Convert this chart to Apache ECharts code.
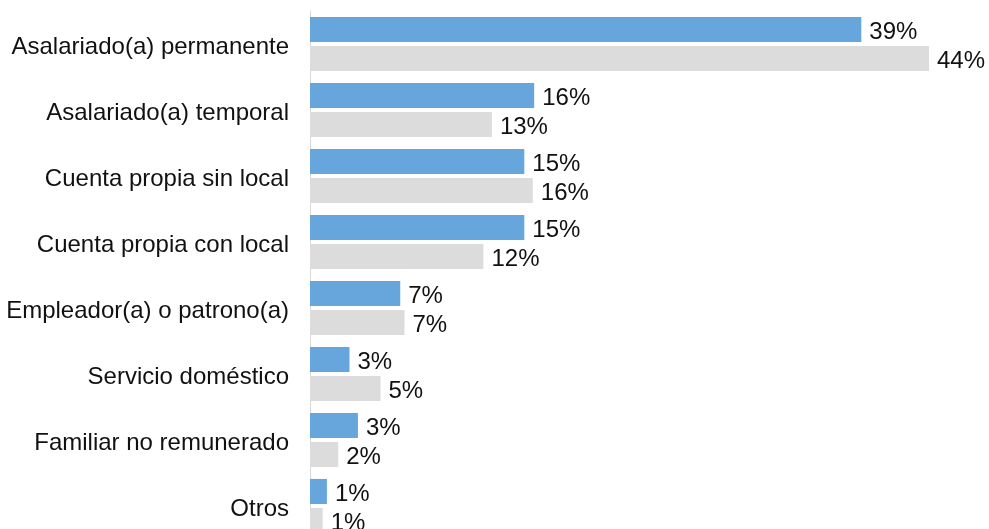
<!DOCTYPE html>
<html>
<head>
<meta charset="utf-8">
<script src="https://cdn.jsdelivr.net/npm/echarts@6/dist/echarts.min.js"></script>
<style>
html,body{margin:0;padding:0;background:#fff;overflow:hidden;}
#chart{width:1100px;height:560px;}
</style>
</head>
<body>
<div id="chart"></div>
<script>
var categories = [
  "Asalariado(a) permanente",
  "Asalariado(a) temporal",
  "Cuenta propia sin local",
  "Cuenta propia con local",
  "Empleador(a) o patrono(a)",
  "Servicio doméstico",
  "Familiar no remunerado",
  "Otros"
];
var seriesA = [39.1, 15.9, 15.2, 15.2, 6.4, 2.8, 3.4, 1.2];
var seriesB = [43.9, 12.9, 15.8, 12.3, 6.7, 5.0, 2.0, 0.9];
var labelsA = ["39%", "16%", "15%", "15%", "7%", "3%", "3%", "1%"];
var labelsB = ["44%", "13%", "16%", "12%", "7%", "5%", "2%", "1%"];

var chart = echarts.init(document.getElementById('chart'), null, {renderer: 'canvas'});
var font = '"Liberation Sans", Arial, Helvetica, sans-serif';
function mkLabel(labels) {
  return {
    show: true,
    position: 'right',
    distance: 8,
    offset: [0, 3],
    fontSize: 24,
    fontFamily: font,
    color: '#111',
    formatter: function (p) { return labels[p.dataIndex]; }
  };
}
chart.setOption({
  animation: false,
  grid: {left: 310, top: 11, width: 705, height: 528, containLabel: false},
  xAxis: {
    type: 'value', min: 0, max: 50,
    show: false
  },
  yAxis: {
    type: 'category',
    data: categories,
    inverse: true,
    axisTick: {show: false},
    axisLine: {show: true, lineStyle: {color: '#d9d9d9', width: 1}},
    axisLabel: {
      margin: 21, fontSize: 24, fontFamily: font, color: '#111',
      formatter: function (v) { return '{c|' + v + '}'; },
      rich: {c: {fontSize: 24, fontFamily: font, color: '#111', padding: [6, 0, 0, 0]}}
    },
    splitLine: {show: false}
  },
  series: [
    {
      type: 'bar', data: seriesA,
      barCategoryGap: '18%', barGap: '16%',
      itemStyle: {color: '#66a6dc'},
      label: mkLabel(labelsA)
    },
    {
      type: 'bar', data: seriesB,
      barCategoryGap: '18%', barGap: '16%',
      itemStyle: {color: '#dcdcdc'},
      label: mkLabel(labelsB)
    }
  ]
});
</script>
</body>
</html>
